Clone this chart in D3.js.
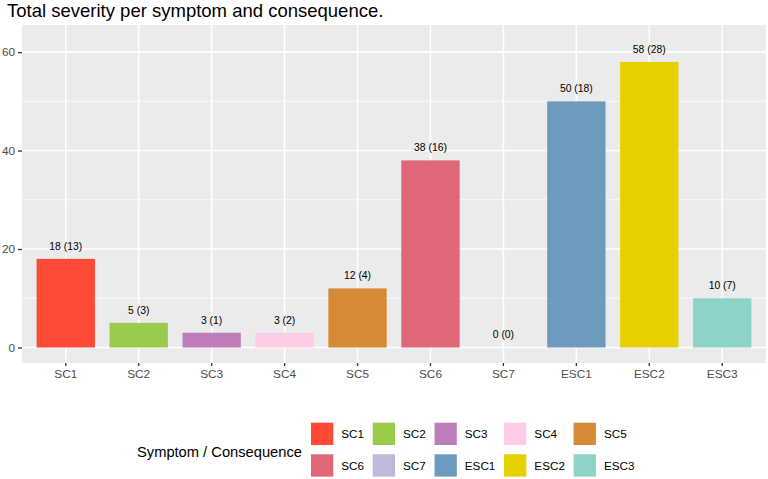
<!DOCTYPE html>
<html lang="en">
  <head>
    <meta charset="utf-8">
    <title>Total severity per symptom and consequence</title>
    <script type="text/javascript" src="https://cdn.jsdelivr.net/npm/d3@7"></script>
    <style type="text/css">
      body { margin: 0; background: #fff; }
      text { font-family: "Liberation Sans", Arial, sans-serif; }
    </style>
  </head>
  <body>
    <script type="text/javascript">

      // Data
      var categories = ["SC1", "SC2", "SC3", "SC4", "SC5", "SC6", "SC7", "ESC1", "ESC2", "ESC3"];
      var severity = [18, 5, 3, 3, 12, 38, 0, 50, 58, 10];
      var counts = [13, 3, 1, 2, 4, 16, 0, 18, 28, 7];
      var colours = ["#FF4A36", "#9ACB4A", "#BE7EBB", "#FECDE5", "#D68A34",
                     "#E0667A", "#BEBADA", "#6C9BBD", "#E5D000", "#8DD3C7"];
      var yTicks = [0, 20, 40, 60];
      var yMinor = [10, 30, 50];

      var w = 768;
      var h = 479;
      var panel = { left: 22, right: 766, top: 25, bottom: 363 };

      var svg = d3.select("body")
        .append("svg")
        .attr("width", w)
        .attr("height", h);

      // Scales
      var xScale = d3.scaleBand()
        .domain(categories)
        .range([panel.left, panel.right])
        .paddingInner(0.2)
        .paddingOuter(0.2);

      var yScale = d3.scaleLinear()
        .domain([-3.15, 65.5])
        .range([panel.bottom, panel.top]);

      var colour = d3.scaleOrdinal()
        .domain(categories)
        .range(colours);

      // Title
      svg.append("text")
        .attr("x", 7)
        .attr("y", 16.5)
        .attr("font-size", "18.5px")
        .attr("fill", "#000")
        .text("Total severity per symptom and consequence.");

      // Panel background
      svg.append("rect")
        .attr("x", panel.left)
        .attr("y", panel.top)
        .attr("width", panel.right - panel.left)
        .attr("height", panel.bottom - panel.top)
        .attr("fill", "#EBEBEB");

      // Grid lines
      svg.selectAll("line.minor")
        .data(yMinor)
        .enter()
        .append("line")
        .attr("class", "minor")
        .attr("x1", panel.left)
        .attr("x2", panel.right)
        .attr("y1", function(d) { return yScale(d); })
        .attr("y2", function(d) { return yScale(d); })
        .attr("stroke", "#fff")
        .attr("stroke-width", 0.8);

      svg.selectAll("line.majory")
        .data(yTicks)
        .enter()
        .append("line")
        .attr("class", "majory")
        .attr("x1", panel.left)
        .attr("x2", panel.right)
        .attr("y1", function(d) { return yScale(d); })
        .attr("y2", function(d) { return yScale(d); })
        .attr("stroke", "#fff")
        .attr("stroke-width", 1.6);

      svg.selectAll("line.majorx")
        .data(categories)
        .enter()
        .append("line")
        .attr("class", "majorx")
        .attr("x1", function(d) { return xScale(d) + xScale.bandwidth() / 2; })
        .attr("x2", function(d) { return xScale(d) + xScale.bandwidth() / 2; })
        .attr("y1", panel.top)
        .attr("y2", panel.bottom)
        .attr("stroke", "#fff")
        .attr("stroke-width", 1.6);

      // Bars
      svg.selectAll("rect.bar")
        .data(categories)
        .enter()
        .append("rect")
        .attr("class", "bar")
        .attr("x", function(d) { return xScale(d); })
        .attr("y", function(d, i) { return yScale(severity[i]); })
        .attr("width", xScale.bandwidth())
        .attr("height", function(d, i) { return yScale(0) - yScale(severity[i]); })
        .attr("fill", function(d) { return colour(d); });

      // Bar labels
      svg.selectAll("text.barlabel")
        .data(categories)
        .enter()
        .append("text")
        .attr("class", "barlabel")
        .attr("text-anchor", "middle")
        .attr("x", function(d) { return xScale(d) + xScale.bandwidth() / 2; })
        .attr("y", function(d, i) { return yScale(severity[i]) - 9; })
        .attr("font-size", "10.4px")
        .attr("fill", "#000")
        .text(function(d, i) { return severity[i] + " (" + counts[i] + ")"; });

      // Axes
      var xAxis = d3.axisBottom(xScale).tickSize(3).tickPadding(4);
      var yAxis = d3.axisLeft(yScale).tickValues(yTicks).tickSize(4).tickPadding(3);

      var gx = svg.append("g")
        .attr("transform", "translate(0," + panel.bottom + ")")
        .call(xAxis);
      var gy = svg.append("g")
        .attr("transform", "translate(" + panel.left + ",0)")
        .call(yAxis);

      [gx, gy].forEach(function(g) {
        g.select(".domain").remove();
        g.selectAll(".tick line").attr("stroke", "#333").attr("stroke-width", 1.3);
        g.selectAll(".tick text")
          .attr("fill", "#4D4D4D")
          .attr("font-size", "11.8px")
          .attr("font-family", "'Liberation Sans', Arial, sans-serif");
      });

      // Legend
      var keySize = 22.3;
      var legendLeft = 311;
      var rowY = [422.7, 454.3];

      svg.append("text")
        .attr("x", 137)
        .attr("y", 456.7)
        .attr("font-size", "14.7px")
        .attr("fill", "#000")
        .text("Symptom / Consequence");

      var legend = svg.selectAll("g.legend")
        .data(categories)
        .enter()
        .append("g")
        .attr("class", "legend");

      legend.append("rect")
        .attr("width", keySize)
        .attr("height", keySize)
        .attr("fill", function(d) { return colour(d); });

      legend.append("text")
        .attr("x", keySize + 8)
        .attr("y", keySize / 2 + 4.2)
        .attr("font-size", "11.7px")
        .attr("fill", "#000")
        .text(function(d) { return d; });

      // Column widths follow the widest label in each column
      var labelWidths = [];
      legend.selectAll("text").each(function() {
        labelWidths.push(this.getComputedTextLength());
      });
      var colX = [];
      var cx = legendLeft;
      for (var c = 0; c < 5; c++) {
        colX.push(cx);
        cx += keySize + 8 + Math.max(labelWidths[c], labelWidths[c + 5]) + 8.7;
      }
      legend.attr("transform", function(d, i) {
        return "translate(" + colX[i % 5] + "," + rowY[Math.floor(i / 5)] + ")";
      });

    </script>
  </body>
</html>
